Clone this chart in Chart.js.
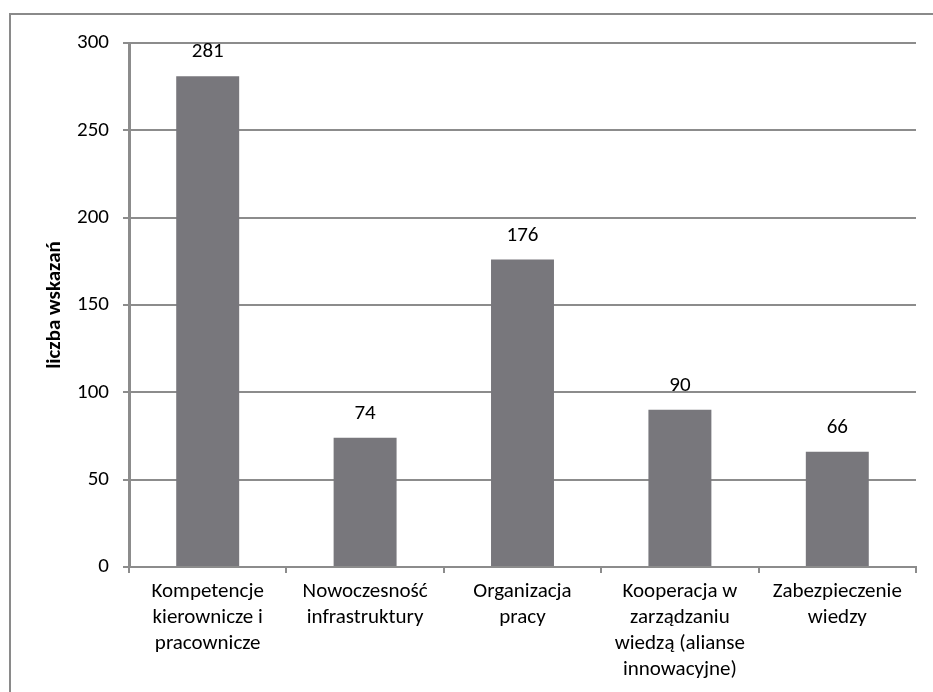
<!DOCTYPE html>
<html>
<head>
<meta charset="utf-8">
<script src="https://cdn.jsdelivr.net/npm/chart.js@4"></script>
<style>
  html, body { margin: 0; padding: 0; background: #fff; }
  #wrap { position: relative; width: 933px; height: 692px; }
  #ramka { position: absolute; left: 9px; top: 13px; right: 0; bottom: 0; border-left: 2px solid #8a8a8a; border-top: 2px solid #8a8a8a; }
  canvas { position: absolute; left: 0; top: 0; }
</style>
</head>
<body>
<div id="wrap">
  <div id="ramka"></div>
  <canvas id="wykres" width="933" height="692"></canvas>
</div>
<script>
// Dane wykresu
const kategorie = [
  ['Kompetencje', 'kierownicze i', 'pracownicze'],
  ['Nowoczesność', 'infrastruktury'],
  ['Organizacja', 'pracy'],
  ['Kooperacja w', 'zarządzaniu', 'wiedzą (alianse', 'innowacyjne)'],
  ['Zabezpieczenie', 'wiedzy']
]
const wartosci = [281, 74, 176, 90, 66]
const tytulOsiY = 'liczba wskazań'

const czcionka = "Carlito, Calibri, Lato, sans-serif"

// Etykiety z wartościami nad słupkami
const etykietyWartosci = {
  id: 'etykietyWartosci',
  afterDatasetsDraw(chart) {
    const ctx = chart.ctx
    const meta = chart.getDatasetMeta(0)
    ctx.save()
    ctx.font = '21px ' + czcionka
    ctx.fillStyle = '#000'
    ctx.textAlign = 'center'
    ctx.textBaseline = 'middle'
    meta.data.forEach((bar, i) => {
      ctx.fillText(String(wartosci[i]), bar.x, bar.y - 24)
    })
    ctx.restore()
  }
}

const ctx_wykres = document.getElementById('wykres')

let wykres = new Chart(ctx_wykres, {
  type: 'bar',
  data: {
    labels: kategorie,
    datasets: [{
      data: wartosci,
      backgroundColor: '#78777c',
      borderWidth: 0,
      categoryPercentage: 1,
      barPercentage: 0.4
    }]
  },
  options: {
    responsive: false,
    animation: false,
    layout: { padding: { left: 0, top: 43, right: 17, bottom: 0 } },
    plugins: {
      legend: { display: false },
      tooltip: { enabled: false }
    },
    scales: {
      x: {
        grid: { drawOnChartArea: false, drawTicks: true, tickLength: 6, color: '#8c8c8c', lineWidth: 2 },
        border: { display: true, color: '#8c8c8c', width: 2 },
        ticks: { color: '#000', font: { family: czcionka, size: 21, lineHeight: 1.24 }, padding: 6, maxRotation: 0, autoSkip: false },
        afterFit(scale) { scale.height = 125 }
      },
      y: {
        min: 0,
        max: 300,
        ticks: { stepSize: 50, color: '#000', font: { family: czcionka, size: 21 }, padding: 14 },
        grid: { color: '#8c8c8c', lineWidth: 2, tickLength: 6 },
        border: { display: true, color: '#8c8c8c', width: 3 },
        title: {
          display: true,
          text: tytulOsiY,
          color: '#000',
          font: { family: czcionka, size: 21, weight: 'bold' },
          padding: { top: 42, bottom: 0 }
        },
        afterFit(scale) { scale.width = 129 }
      }
    }
  },
  plugins: [etykietyWartosci]
})
</script>
</body>
</html>
